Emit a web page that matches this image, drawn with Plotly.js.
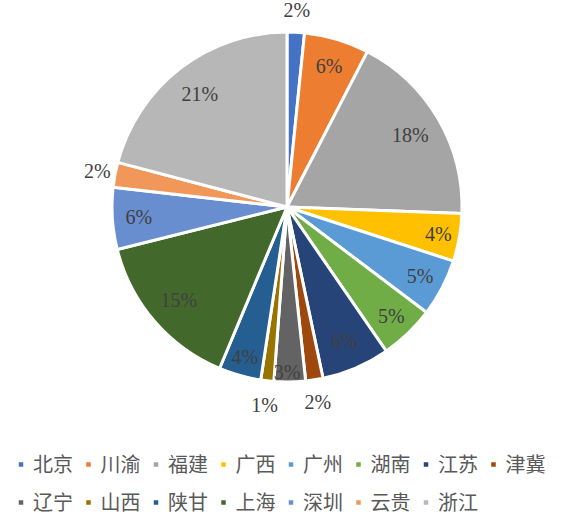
<!DOCTYPE html>
<html>
<head>
<meta charset="utf-8">
<script src="https://cdn.plot.ly/plotly-3.0.1.min.js"></script>
<style>html,body{margin:0;padding:0;background:#fff;}#chart{width:578px;height:517px;}</style>
</head>
<body>
<div id="chart"></div>
<script>
const regions = ['北京','川渝','福建','广西','广州','湖南','江苏','津冀','辽宁','山西','陕甘','上海','深圳','云贵','浙江'];
const shares = [1.6, 6.0, 18.0, 4.4, 5.3, 5.1, 6.3, 1.6, 2.9, 1.2, 3.9, 14.8, 5.7, 2.3, 20.9];
const colors = ['#4472C4','#ED7D31','#A5A5A5','#FFC000','#5B9BD5','#70AD47','#264478','#9E480E','#636363','#997300','#255E91','#43682B','#698ED0','#F1975A','#B7B7B7'];
const labelPos = ['outside','inside','inside','inside','inside','inside','inside','outside','inside','outside','inside','inside','inside','outside','inside'];

const W = 578, H = 517;
const cx = 287, cy = 207, R = 175, R2 = 207;
const domOf = r => ({x: [(cx - r) / W, (cx + r) / W], y: [1 - (cy + r) / H, 1 - (cy - r) / H]});
const labFont = {family: 'Liberation Serif, serif', size: 20, color: '#404040'};
const pctFmt = '%{percent:.0%}';

const slices = {
  type: 'pie',
  labels: regions,
  values: shares,
  sort: false,
  direction: 'clockwise',
  rotation: 0,
  marker: {colors: colors, line: {color: '#ffffff', width: 3}},
  textinfo: 'none',
  domain: domOf(R),
  hoverinfo: 'label+percent'
};

// transparent ring carrying the labels that sit inside the slices
const innerLabels = {
  type: 'pie',
  labels: regions,
  values: shares,
  sort: false,
  direction: 'clockwise',
  rotation: 0,
  hole: 0.63,
  showlegend: false,
  marker: {colors: regions.map(() => 'rgba(0,0,0,0)'), line: {width: 0}},
  textposition: 'inside',
  texttemplate: labelPos.map(p => p === 'inside' ? pctFmt : ''),
  insidetextorientation: 'horizontal',
  insidetextfont: labFont,
  textfont: labFont,
  domain: domOf(R),
  hoverinfo: 'skip'
};

// transparent ring just outside the pie carrying the labels of the thin slices
const outerLabels = {
  type: 'pie',
  labels: regions,
  values: shares,
  sort: false,
  direction: 'clockwise',
  rotation: 0,
  hole: R / R2,
  showlegend: false,
  marker: {colors: regions.map(() => 'rgba(0,0,0,0)'), line: {width: 0}},
  textposition: 'inside',
  texttemplate: labelPos.map(p => p === 'outside' ? pctFmt : ''),
  insidetextorientation: 'horizontal',
  insidetextfont: labFont,
  textfont: labFont,
  domain: domOf(R2),
  hoverinfo: 'skip'
};

const layout = {
  width: W, height: H,
  margin: {l: 0, r: 0, t: 0, b: 0},
  paper_bgcolor: '#ffffff',
  showlegend: true,
  uniformtext: {mode: 'show', minsize: 20},
  legend: {
    orientation: 'h', x: 0, xanchor: 'left', y: 1 - 445 / H, yanchor: 'top',
    entrywidth: 22.5,
    font: {family: 'Noto Sans CJK SC, sans-serif', size: 20, color: '#595959'}
  }
};

Plotly.newPlot('chart', [slices, innerLabels, outerLabels], layout, {displayModeBar: false, staticPlot: true}).then(function (gd) {
  // legend glyph styling like the reference: small square, short gap, wider row pitch
  gd.querySelectorAll('.legend .scrollbox').forEach(el => el.removeAttribute('clip-path'));
  gd.querySelectorAll('.legend path.legendpie').forEach(p => {
    p.setAttribute('transform', 'translate(21,0) scale(0.5)');
  });
  gd.querySelectorAll('.legend text.legendtext').forEach(t => t.setAttribute('x', 33));
  const items = Array.from(gd.querySelectorAll('.legend g.traces'));
  const parse = el => {
    const m = /translate\(\s*([-\d.]+)[ ,]+([-\d.]+)\s*\)/.exec(el.getAttribute('transform') || '');
    return m ? [parseFloat(m[1]), parseFloat(m[2])] : [0, 0];
  };
  const ys = Array.from(new Set(items.map(el => parse(el)[1]))).sort((a, b) => a - b);
  if (ys.length > 1) {
    const extra = 38 - (ys[1] - ys[0]);
    items.forEach(el => {
      const [x, y] = parse(el);
      const row = ys.indexOf(y);
      el.setAttribute('transform', 'translate(' + x + ',' + (y + row * extra) + ')');
    });
  }
});
</script>
</body>
</html>
